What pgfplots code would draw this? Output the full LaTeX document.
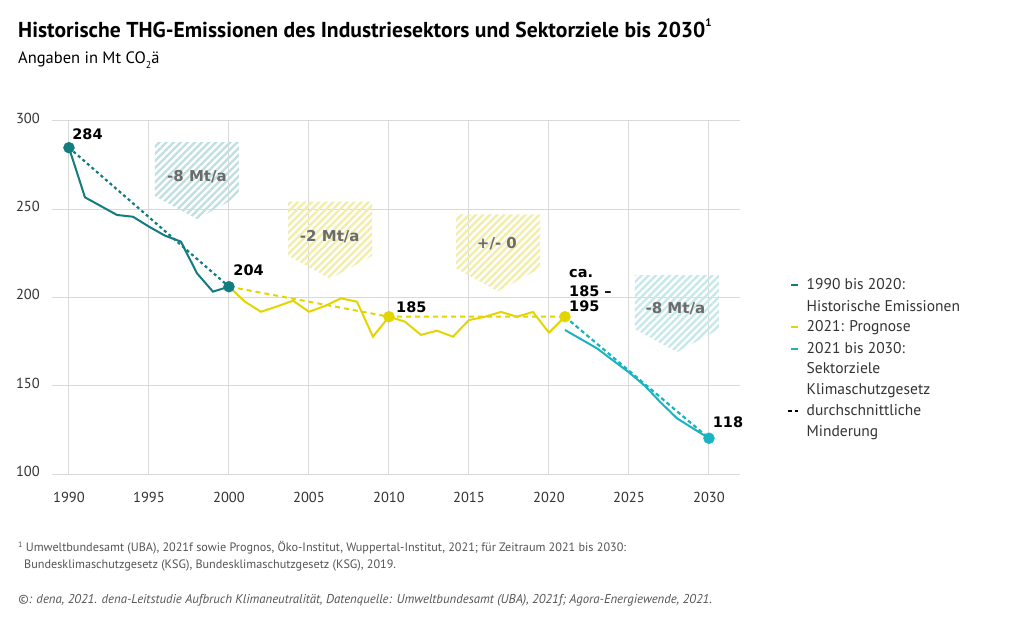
\documentclass[border=0pt]{standalone}
\usepackage{pgfplots}
\pgfplotsset{compat=1.18}
\usetikzlibrary{patterns.meta}
\usepackage{fontspec}
\setmainfont{PT Sans}
\newfontfamily\dv{DejaVu Sans}
\definecolor{histc}{HTML}{137C80}
\definecolor{progc}{HTML}{E3D600}
\definecolor{zielc}{HTML}{19B4C0}
\definecolor{gridc}{HTML}{D9D9D9}
\definecolor{tickc}{HTML}{333333}
\definecolor{boxtxt}{HTML}{6B6B6B}
\definecolor{hatchT}{HTML}{BFDFE0}
\definecolor{hatchY}{HTML}{F2EDA8}
\definecolor{hatchC}{HTML}{C5E8EA}
\definecolor{footc}{HTML}{555555}
\begin{document}
\begin{tikzpicture}
\useasboundingbox (0,0) rectangle (1024pt,620pt);
\fill[white] (0,0) rectangle (1024pt,620pt);
\begin{axis}[
  at={(52pt,145.7pt)}, anchor=south west,
  scale only axis, width=688pt, height=353.3pt,
  xmin=1988.94, xmax=2031.94, ymin=100, ymax=300,
  xtick={1990,1995,...,2030}, ytick={100,150,...,300},
  grid=major, grid style={draw=gridc, line width=1pt},
  axis line style={draw=none}, major tick length=0pt, tick style={draw=none},
  /pgf/number format/assume math mode=true,
  /pgf/number format/1000 sep={},
  xticklabel style={font=\fontsize{14.5}{16}\selectfont, text=tickc, anchor=base, inner sep=0pt, yshift=-28pt},
  yticklabel style={font=\fontsize{14.5}{16}\selectfont, text=tickc, anchor=base east, inner sep=0pt, xshift=-12pt, yshift=-2.3pt},
  clip=false,
]
% hatched boxes
\fill[pattern={Lines[angle=45,distance=5pt,line width=2.3pt]}, pattern color=hatchT]
  (axis cs:1995.375,288.1) -- (axis cs:2000.625,288.1) -- (axis cs:2000.625,257.5) -- (axis cs:1998,244.5) -- (axis cs:1995.375,257.5) -- cycle;
\fill[pattern={Lines[angle=45,distance=5pt,line width=2.3pt]}, pattern color=hatchY]
  (axis cs:2003.7,254.3) -- (axis cs:2008.95,254.3) -- (axis cs:2008.95,223.7) -- (axis cs:2006.33,210.7) -- (axis cs:2003.7,223.7) -- cycle;
\fill[pattern={Lines[angle=45,distance=5pt,line width=2.3pt]}, pattern color=hatchY]
  (axis cs:2014.19,247.2) -- (axis cs:2019.44,247.2) -- (axis cs:2019.44,216.6) -- (axis cs:2016.8,203.6) -- (axis cs:2014.19,216.6) -- cycle;
\fill[pattern={Lines[angle=45,distance=5pt,line width=2.3pt]}, pattern color=hatchC]
  (axis cs:2025.375,212.8) -- (axis cs:2030.625,212.8) -- (axis cs:2030.625,182.2) -- (axis cs:2028,169.2) -- (axis cs:2025.375,182.2) -- cycle;
\node[font=\dv\bfseries\fontsize{15}{17}\selectfont, text=boxtxt] at (axis cs:1998,268.3) {-8 Mt/a};
\node[font=\dv\bfseries\fontsize{15}{17}\selectfont, text=boxtxt] at (axis cs:2006.3,234.3) {-2 Mt/a};
\node[font=\dv\bfseries\fontsize{15}{17}\selectfont, text=boxtxt] at (axis cs:2016.75,230.4) {+/- 0};
\node[font=\dv\bfseries\fontsize{15}{17}\selectfont, text=boxtxt] at (axis cs:2027.9,193.6) {-8 Mt/a};
% lines
\addplot[histc, line width=2pt] coordinates {
(1990,284.9)(1991,256.8)(1992,251.8)(1993,246.8)(1994,245.8)(1995,240.2)
(1996,235.1)(1997,231.7)(1998,213.8)(1999,203.4)(2000,206.2)};
\addplot[progc, line width=2pt] coordinates {
(2000,206.2)(2001,197.7)(2002,192.0)(2003,195.0)(2004,198.3)(2005,192.0)
(2006,195.3)(2007,199.6)(2008,197.7)(2009,177.9)(2010,189.2)(2011,186.4)
(2012,178.9)(2013,181.3)(2014,177.9)(2015,187.3)(2016,189.2)(2017,191.9)
(2018,189.2)(2019,191.9)(2020,180.2)(2021,189.2)};
\addplot[zielc, line width=2pt] coordinates {
(2021,181.7)(2022,176.5)(2023,171.3)(2024,164.5)(2025,157.7)(2026,150.0)
(2027,140.5)(2028,131.7)(2029,126.0)(2030,120.4)};
\addplot[histc, line width=2.2pt, dash pattern=on 3pt off 3pt] coordinates {(1990,284.9)(2000,206.2)};
\addplot[progc, line width=2pt, dash pattern=on 5pt off 4pt] coordinates {(2000,206.2)(2010,189.2)(2021,189.2)};
\addplot[zielc, line width=2.2pt, dash pattern=on 4pt off 3pt] coordinates {(2021,189.2)(2030,120.4)};
\addplot[only marks, mark=*, mark size=5.5pt, histc] coordinates {(1990,284.9)(2000,206.2)};
\addplot[only marks, mark=*, mark size=5.5pt, progc] coordinates {(2010,189.2)(2021,189.2)};
\addplot[only marks, mark=*, mark size=5.5pt, zielc] coordinates {(2030,120.4)};
% value labels
\begin{scope}[every node/.style={font=\dv\bfseries\fontsize{14.5}{16}\selectfont, anchor=west, inner sep=0pt}]
\node at (axis cs:1990.2,292.6) {284};
\node at (axis cs:2000.27,215.3) {204};
\node at (axis cs:2010.44,194.7) {185};
\node at (axis cs:2021.25,213.4) {ca.};
\node at (axis cs:2021.25,203.8) {185 –};
\node at (axis cs:2021.25,195.3) {195};
\node at (axis cs:2030.23,129.2) {118};
\end{scope}
\end{axis}
\begin{scope}[x=1pt,y=1pt]
\node[anchor=base west, inner sep=0pt] at (18,582) {\fontsize{21.6}{26}\selectfont\bfseries Historische THG-Emissionen des Industriesektors und Sektorziele bis 2030\raisebox{0.55em}{\fontsize{11}{12}\selectfont 1}};
\node[anchor=base west, inner sep=0pt] at (18,556) {\fontsize{16.5}{20}\selectfont Angaben in Mt CO\raisebox{-0.3em}{\fontsize{10}{12}\selectfont 2}ä};
% legend
\draw[histc, line width=2pt] (791,335) -- (798,335);
\draw[progc, line width=2pt] (791,292.7) -- (798,292.7);
\draw[zielc, line width=2pt] (791,271) -- (798,271);
\draw[black, line width=2pt, dash pattern=on 3.5pt off 3pt] (788,209) -- (799,209);
\begin{scope}[every node/.style={anchor=base west, inner sep=0pt, font=\fontsize{15.5}{18}\selectfont, text=tickc}]
\node at (806.5,330) {1990 bis 2020:};
\node at (806.5,308.5) {Historische Emissionen};
\node at (806.5,288) {2021: Prognose};
\node at (806.5,266.5) {2021 bis 2030:};
\node at (806.5,246) {Sektorziele};
\node at (806.5,225) {Klimaschutzgesetz};
\node at (806.5,204) {durchschnittliche};
\node at (806.5,183.5) {Minderung};
\end{scope}
% footnotes
\begin{scope}[every node/.style={anchor=base west, inner sep=0pt, text=footc}]
\node[font=\fontsize{12.2}{14}\selectfont] at (18,68) {\raisebox{0.4em}{\fontsize{8}{9}\selectfont 1} Umweltbundesamt (UBA), 2021f sowie Prognos, Öko-Institut, Wuppertal-Institut, 2021; für Zeitraum 2021 bis 2030:};
\node[font=\fontsize{12.2}{14}\selectfont] at (24,51) {Bundesklimaschutzgesetz (KSG), Bundesklimaschutzgesetz (KSG), 2019.};
\node[font=\fontsize{12.8}{14}\selectfont] at (18,16) {\itshape ©: dena, 2021. dena-Leitstudie Aufbruch Klimaneutralität, Datenquelle: Umweltbundesamt (UBA), 2021f; Agora-Energiewende, 2021.};
\end{scope}
\end{scope}
\end{tikzpicture}
\end{document}
